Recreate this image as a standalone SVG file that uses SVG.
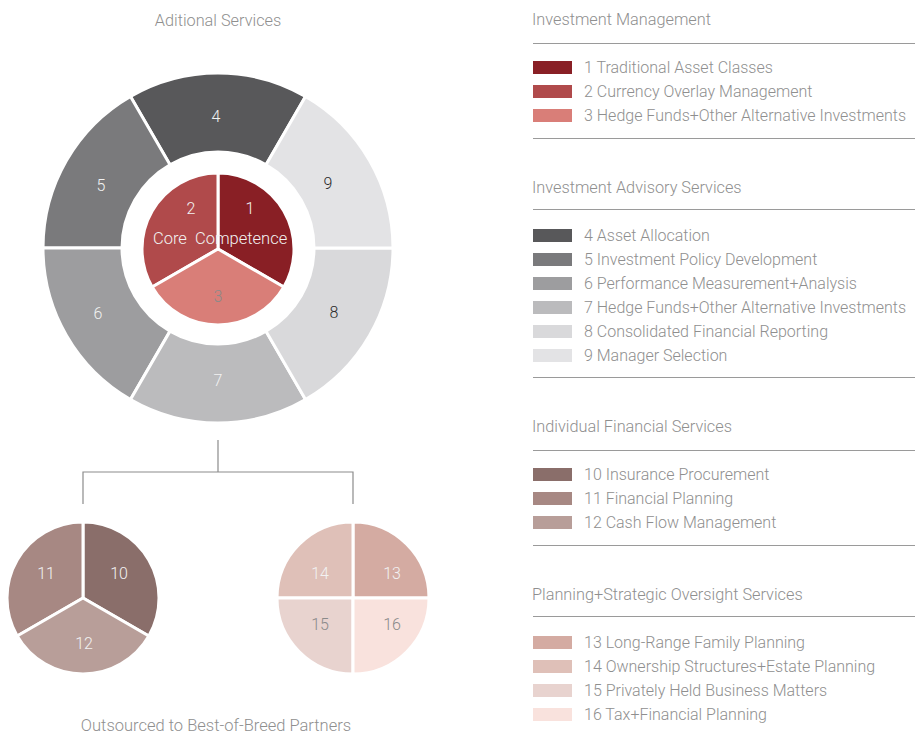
<svg xmlns="http://www.w3.org/2000/svg" width="915" height="735" viewBox="0 0 915 735">
  <style>
    text { font-family: Roboto, "Liberation Sans", sans-serif; font-weight: 300; font-size: 16px; fill: #8f8f8f; }
    .h { font-size: 16.3px; }
    .c { text-anchor: middle; }
    .lt { fill: #f2f2f2; }
    .dk { fill: #2a2a2a; }
    .md { fill: #8a8a8a; }
    .seg { stroke: #ffffff; stroke-width: 3; stroke-linejoin: miter; }
    .rule { stroke: #9a9a9a; stroke-width: 1; }
    .conn { stroke: #8c8c8c; stroke-width: 1.2; fill: none; }
  </style>

  <!-- Titles -->
  <text class="c h" x="218" y="26">Aditional Services</text>
  <text class="c" x="216" y="731" style="font-size:16.5px">Outsourced to Best-of-Breed Partners</text>

  <!-- Outer ring: advisory services -->
  <g id="ring">
    <g id="seg4"><path class="seg" fill="#58585a" d="M305.5 96.45 A175 175 0 0 0 130.5 96.45 L170 164.86 A96 96 0 0 1 266 164.86 Z"/><text class="c lt" x="216" y="122">4</text></g>
    <g id="seg5"><path class="seg" fill="#7a7a7c" d="M130.5 96.45 A175 175 0 0 0 43 248 L122 248 A96 96 0 0 1 170 164.86 Z"/><text class="c lt" x="101" y="191">5</text></g>
    <g id="seg6"><path class="seg" fill="#9d9d9f" d="M43 248 A175 175 0 0 0 130.5 399.55 L170 331.14 A96 96 0 0 1 122 248 Z"/><text class="c lt" x="98" y="319">6</text></g>
    <g id="seg7"><path class="seg" fill="#bbbbbd" d="M130.5 399.55 A175 175 0 0 0 305.5 399.55 L266 331.14 A96 96 0 0 1 170 331.14 Z"/><text class="c lt" x="218" y="386">7</text></g>
    <g id="seg8"><path class="seg" fill="#d9d9db" d="M305.5 399.55 A175 175 0 0 0 393 248 L314 248 A96 96 0 0 1 266 331.14 Z"/><text class="c dk" x="334" y="318">8</text></g>
    <g id="seg9"><path class="seg" fill="#e3e3e5" d="M393 248 A175 175 0 0 0 305.5 96.45 L266 164.86 A96 96 0 0 1 314 248 Z"/><text class="c dk" x="328" y="189">9</text></g>
  </g>

  <!-- Core pie: investment management -->
  <g id="core">
    <g id="seg1"><path class="seg" fill="#891f25" d="M218 249 L218 173 A76 76 0 0 1 283.82 287 Z"/><text class="c lt" x="250" y="214">1</text></g>
    <g id="seg2"><path class="seg" fill="#b04a4b" d="M218 249 L218 173 A76 76 0 0 0 152.18 287 Z"/><text class="c lt" x="191" y="214">2</text></g>
    <g id="seg3"><path class="seg" fill="#d97e78" d="M218 249 L152.18 287 A76 76 0 0 0 283.82 287 Z"/><text class="c md" x="218" y="302">3</text></g>
    <text class="lt" x="153" y="244" style="font-size:16.5px" xml:space="preserve">Core  Competence</text>
  </g>

  <!-- Connectors -->
  <g id="connectors">
    <path class="conn" d="M218 440 V472 M83 504 V472 H353 V504"/>
  </g>

  <!-- Individual financial services pie -->
  <g id="pie-individual">
    <g id="seg10"><path class="seg" fill="#8a6e6a" d="M83 598 L83 522 A76 76 0 0 1 148.82 636 Z"/><text class="c lt" x="119" y="579">10</text></g>
    <g id="seg11"><path class="seg" fill="#a78883" d="M83 598 L83 522 A76 76 0 0 0 17.18 636 Z"/><text class="c lt" x="46" y="579">11</text></g>
    <g id="seg12"><path class="seg" fill="#b89e99" d="M83 598 L17.18 636 A76 76 0 0 0 148.82 636 Z"/><text class="c lt" x="84" y="649">12</text></g>
  </g>

  <!-- Planning and oversight pie -->
  <g id="pie-planning">
    <g id="seg13"><path class="seg" fill="#d4aba2" d="M353 598 L353 522 A76 76 0 0 1 429 598 Z"/><text class="c lt" x="392" y="579">13</text></g>
    <g id="seg14"><path class="seg" fill="#dfc0b8" d="M353 598 L277 598 A76 76 0 0 1 353 522 Z"/><text class="c lt" x="320" y="579">14</text></g>
    <g id="seg15"><path class="seg" fill="#e8d3cf" d="M353 598 L353 674 A76 76 0 0 1 277 598 Z"/><text class="c md" x="320" y="630">15</text></g>
    <g id="seg16"><path class="seg" fill="#f9e2dd" d="M353 598 L429 598 A76 76 0 0 1 353 674 Z"/><text class="c md" x="392" y="630">16</text></g>
  </g>

  <!-- Legend -->
  <g id="legend">
    <text class="h" x="532" y="25">Investment Management</text>
    <line class="rule" x1="533" y1="43.5" x2="915" y2="43.5"/>
    <rect x="533" y="61" width="39" height="13" fill="#891f25"/><text x="584" y="73">1 Traditional Asset Classes</text>
    <rect x="533" y="85" width="39" height="13" fill="#b04a4b"/><text x="584" y="97">2 Currency Overlay Management</text>
    <rect x="533" y="109" width="39" height="13" fill="#d97e78"/><text x="584" y="121">3 Hedge Funds+Other Alternative Investments</text>
    <line class="rule" x1="533" y1="138.5" x2="915" y2="138.5"/>

    <text class="h" x="532" y="193">Investment Advisory Services</text>
    <line class="rule" x1="533" y1="209.5" x2="915" y2="209.5"/>
    <rect x="533" y="229" width="39" height="13" fill="#58585a"/><text x="584" y="241">4 Asset Allocation</text>
    <rect x="533" y="253" width="39" height="13" fill="#7a7a7c"/><text x="584" y="265">5 Investment Policy Development</text>
    <rect x="533" y="277" width="39" height="13" fill="#9d9d9f"/><text x="584" y="289">6 Performance Measurement+Analysis</text>
    <rect x="533" y="301" width="39" height="13" fill="#bbbbbd"/><text x="584" y="313">7 Hedge Funds+Other Alternative Investments</text>
    <rect x="533" y="325" width="39" height="13" fill="#d9d9db"/><text x="584" y="337">8 Consolidated Financial Reporting</text>
    <rect x="533" y="349" width="39" height="13" fill="#e3e3e5"/><text x="584" y="361">9 Manager Selection</text>
    <line class="rule" x1="533" y1="377.5" x2="915" y2="377.5"/>

    <text class="h" x="532" y="432">Individual Financial Services</text>
    <line class="rule" x1="533" y1="450.5" x2="915" y2="450.5"/>
    <rect x="533" y="468" width="39" height="13" fill="#8a6e6a"/><text x="584" y="480">10 Insurance Procurement</text>
    <rect x="533" y="492" width="39" height="13" fill="#a78883"/><text x="584" y="504">11 Financial Planning</text>
    <rect x="533" y="516" width="39" height="13" fill="#b89e99"/><text x="584" y="528">12 Cash Flow Management</text>
    <line class="rule" x1="533" y1="545.5" x2="915" y2="545.5"/>

    <text class="h" x="532" y="600">Planning+Strategic Oversight Services</text>
    <line class="rule" x1="533" y1="616.5" x2="915" y2="616.5" stroke="#b4b4b4"/>
    <rect x="533" y="636" width="39" height="13" fill="#d4aba2"/><text x="584" y="648">13 Long-Range Family Planning</text>
    <rect x="533" y="660" width="39" height="13" fill="#dfc0b8"/><text x="584" y="672">14 Ownership Structures+Estate Planning</text>
    <rect x="533" y="684" width="39" height="13" fill="#e8d3cf"/><text x="584" y="696">15 Privately Held Business Matters</text>
    <rect x="533" y="708" width="39" height="13" fill="#f9e2dd"/><text x="584" y="720">16 Tax+Financial Planning</text>
  </g>
</svg>
